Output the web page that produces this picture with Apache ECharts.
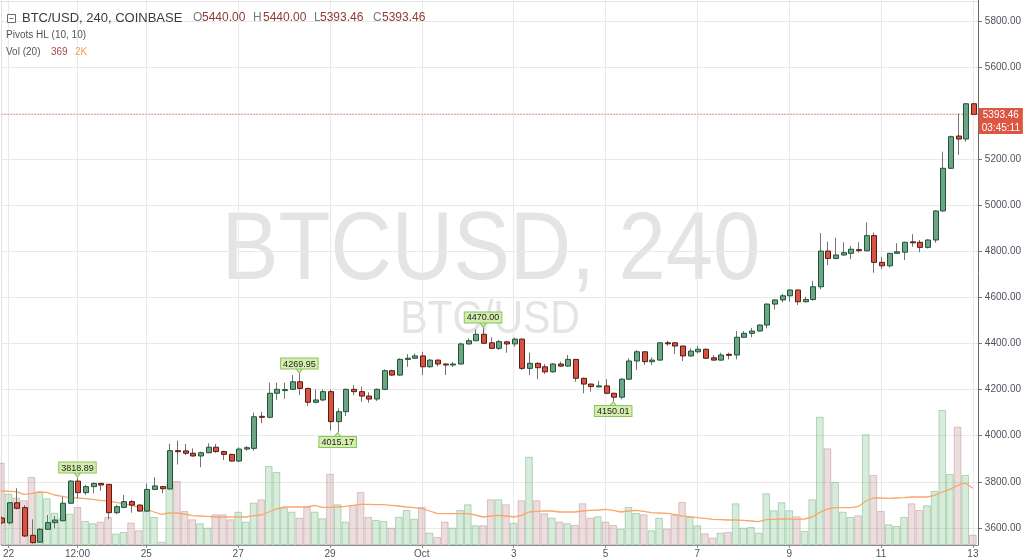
<!DOCTYPE html>
<html><head><meta charset="utf-8">
<script src="https://cdn.jsdelivr.net/npm/echarts@6/dist/echarts.min.js"></script>
<style>html,body{margin:0;padding:0;background:#fff}#c{width:1024px;height:560px}</style>
</head><body><div id="c"></div>
<script>
// 4h candles, index 0 = Sep 22 00:00 (first entry is Sep 21 20:00, index -1)
const firstIndex = -1;
const open = [3643,3622,3709,3688,3568,3538,3594,3623,3631,3707,
3803,3753,3779,3793,3789,3666,3689,3714,3699,3673,
3767,3779,3769,3935,3934,3924,3912,3926,3950,3931,
3919,3890,3942,3945,4084,4080,4184,4198,4201,4234,
4205,4145,4155,4191,4061,4104,4201,4191,4172,4159,
4201,4282,4263,4331,4336,4346,4299,4328,4311,4309,
4311,4398,4412,4440,4403,4379,4407,4398,4419,4292,
4314,4299,4277,4311,4302,4331,4249,4224,4213,4216,
4184,4167,4245,4324,4364,4321,4328,4403,4403,4389,
4346,4364,4375,4338,4328,4353,4350,4427,4444,4454,
4480,4571,4589,4607,4632,4581,4591,4646,4801,4769,
4784,4791,4807,4802,4868,4752,4737,4791,4796,4841,
4839,4817,4849,4975,5160,5300,5287,5440];
const close = [3622,3709,3685,3565,3536,3594,3623,3634,3707,3803,
3753,3779,3793,3786,3666,3692,3714,3699,3673,3767,
3782,3770,3935,3932,3924,3912,3926,3950,3931,3919,
3890,3942,3948,4082,4080,4184,4201,4200,4234,4205,
4145,4155,4191,4061,4104,4201,4191,4172,4159,4201,
4282,4263,4331,4336,4346,4299,4328,4311,4309,4311,
4398,4412,4440,4401,4379,4408,4398,4419,4292,4314,
4295,4277,4311,4302,4331,4249,4224,4213,4216,4184,
4167,4245,4324,4364,4321,4328,4403,4400,4389,4346,
4367,4375,4336,4328,4350,4350,4427,4444,4454,4480,
4571,4589,4607,4632,4581,4591,4646,4801,4769,4784,
4794,4809,4804,4868,4752,4737,4791,4798,4839,4838,
4817,4849,4975,5160,5297,5287,5440,5393.46];
const low = [3615,3615,3680,3560,3532,3535,3592,3598,3628,3705,
3728,3743,3750,3761,3637,3659,3685,3666,3670,3670,
3764,3750,3765,3875,3916,3909,3863,3924,3926,3895,
3888,3885,3935,3935,4054,4075,4155,4160,4198,4176,
4129,4140,4150,4022,4015.17,4085,4176,4147,4143,4150,
4198,4260,4260,4299,4333,4263,4295,4300,4263,4298,
4308,4395,4410,4398,4376,4372,4360,4386,4285,4263,
4245,4268,4273,4298,4299,4234,4184,4191,4210,4180,
4150.01,4158,4242,4285,4307,4307,4325,4390,4354,4324,
4343,4357,4333,4326,4325,4331,4331,4424,4427,4452,
4466,4548,4578,4581,4567,4578,4585,4635,4740,4765,
4780,4766,4794,4800,4707,4723,4730,4789,4762,4820,
4796,4812,4837,4972,5157,5218,5275,5393.46];
const high = [3650,3712,3772,3699,3637,3600,3656,3652,3735,3808,
3818.89,3786,3797,3795,3790,3699,3743,3721,3702,3793,
3820,3782,3965,3978,3964,3945,3931,3967,3964,3935,
3921,3950,3955,4100,4104,4230,4230,4230,4263,4269.95,
4208,4201,4201,4201,4119,4205,4220,4213,4188,4205,
4288,4286,4336,4354,4357,4364,4332,4330,4313,4320,
4403,4422,4461,4470,4427,4415,4412,4425,4422,4360,
4318,4311,4315,4321,4350,4333,4252,4226,4238,4245,
4186,4250,4336,4372,4366,4340,4405,4412,4405,4391,
4379,4390,4378,4350,4360,4360,4454,4454,4468,4483,
4574,4592,4615,4635,4634,4603,4671,4879,4842,4859,
4839,4823,4839,4925,4881,4776,4793,4835,4842,4874,
4849,4852,4978,5232,5302,5398,5442,5440];
const volume = [2963,1847,1703,1609,2448,1919,1681,1163,961,1127,
1368,864,781,839,1008,407,468,803,529,1224,
1008,119,2185,2304,1224,925,781,623,1105,1105,
925,1199,839,1523,1645,2844,2628,1343,1199,983,
1379,1199,961,2567,1465,839,1440,1908,1008,900,
864,623,1019,1260,947,1368,443,288,839,623,
1260,1465,709,709,1645,1645,1465,803,1609,3179,
1609,1141,983,839,781,720,1501,983,1033,839,
720,587,1368,1152,1105,529,983,587,1080,1548,
1008,709,421,263,443,468,1501,623,648,443,
1861,1249,1537,1249,1033,504,1645,4619,3481,2268,
1199,1008,1069,3985,2520,1224,745,684,1008,1501,
1260,1429,1944,4860,2556,4259,2520,369];
const volumeMA20 = [1944,1932,1920,1824,1848,1908,1896,1800,1752,1704,
1692,1668,1644,1608,1584,1536,1488,1428,1368,1296,
1188,1104,1152,1152,1116,1056,1044,1032,1008,1008,
1008,1008,1008,1056,1080,1188,1296,1368,1368,1368,
1368,1428,1356,1356,1368,1392,1428,1464,1464,1452,
1452,1428,1404,1368,1344,1308,1224,1140,1128,1128,
1128,1128,1080,1008,1044,1068,1044,1008,1068,1188,
1212,1224,1224,1188,1188,1188,1224,1248,1260,1284,
1248,1188,1224,1248,1212,1164,1152,1140,1104,1044,
1020,984,960,924,912,900,900,888,864,840,
912,924,936,936,924,936,1008,1176,1296,1344,
1344,1344,1380,1584,1692,1692,1680,1692,1704,1728,
1728,1728,1788,1908,2004,2148,2232,2040];

const tickIndex  = [0, 9, 18, 30, 42, 54, 66, 78, 90, 102, 114, 126];
const tickLabels = ['22', '12:00', '25', '27', '29', 'Oct', '3', '5', '7', '9', '11', '13'];
const priceTicks = [3600, 3800, 4000, 4200, 4400, 4600, 4800, 5000, 5200, 5400, 5600, 5800];

const pivotIndex = [9, 38, 43, 62, 79];
const pivotPrice = [3818.89, 4269.95, 4015.17, 4470.00, 4150.01];
const pivotSide  = ['high', 'high', 'low', 'high', 'low'];

const barCountdown = '03:45:11';

const FONT = 'Liberation Sans';
const UP = '#6ba583', UP_B = '#225437', DN = '#d75442', DN_B = '#5b1a13', WICK = '#737375';

const idx = open.map((_, k) => k + firstIndex);
const candleData = idx.map((x, k) => [x, open[k], close[k], low[k], high[k]]);
const volData = idx.map((x, k) => {
  const up = close[k] >= open[k];
  return { value: [x, volume[k]], itemStyle: {
    color: up ? 'rgba(100,180,115,0.25)' : 'rgba(160,90,90,0.2)',
    borderColor: up ? 'rgba(100,175,115,0.45)' : 'rgba(170,110,110,0.35)', borderWidth: 1 } };
});
const maData = idx.map((x, k) => [x, volumeMA20[k]]);
const last = open.length - 1;

function renderCandle(params, api) {
  const x = api.value(0), o = api.value(1), c = api.value(2), l = api.value(3), h = api.value(4);
  const pO = api.coord([x, o]), pC = api.coord([x, c]), pL = api.coord([x, l]), pH = api.coord([x, h]);
  const cx = Math.round(pO[0]);
  const up = c >= o;
  const top = Math.min(pO[1], pC[1]);
  const bh = Math.max(Math.abs(pO[1] - pC[1]), 1);
  return { type: 'group', children: [
    { type: 'line', shape: { x1: cx + 0.5, y1: pH[1], x2: cx + 0.5, y2: pL[1] }, style: { stroke: WICK, lineWidth: 1 } },
    { type: 'rect', shape: { x: cx - 1.5, y: top, width: 5, height: bh },
      style: { fill: up ? UP : DN, stroke: up ? UP_B : DN_B, lineWidth: 1 } }
  ]};
}

const pivotMarks = pivotIndex.map((pi, k) => {
  const hi = pivotSide[k] === 'high';
  return {
    coord: [pi, pivotPrice[k]],
    symbol: hi ? 'path://M0,0 L8,0 L4,5 Z' : 'path://M4,0 L8,5 L0,5 Z',
    symbolSize: [8, 5], symbolOffset: [0, hi ? -3 : 3],
    itemStyle: { color: '#d4eeb0', borderColor: '#8cc25c', borderWidth: 1 },
    label: { show: true, position: hi ? 'top' : 'bottom', distance: -1,
      formatter: pivotPrice[k].toFixed(2), backgroundColor: '#d4eeb0', borderColor: '#8cc25c', borderWidth: 1,
      padding: [1, 2, 0, 2], color: '#222', fontSize: 9, fontFamily: FONT }
  };
});

const lastPrice = close[last];
const option = {
  animation: false,
  backgroundColor: '#ffffff',
  textStyle: { fontFamily: FONT },
  grid: { left: 0, right: 46, top: 0, bottom: 15, containLabel: false },
  xAxis: {
    type: 'value', min: -0.913, max: 126.65, position: 'bottom',
    axisLine: { show: true, onZero: false, lineStyle: { color: '#8c8c8c' } },
    axisTick: { show: true, length: 3, customValues: tickIndex, lineStyle: { color: '#8c8c8c' } },
    axisLabel: { customValues: tickIndex, color: '#4c525e', fontSize: 10, margin: 4, fontFamily: FONT,
      formatter: v => tickLabels[tickIndex.indexOf(Math.round(v))] || '' },
    splitLine: { show: true, lineStyle: { color: '#e9e9e9' } }
  },
  yAxis: [{
    type: 'value', position: 'right', min: 3525.8, max: 5890.1,
    axisLine: { show: true, onZero: false, lineStyle: { color: '#6b6b6b' } },
    axisTick: { show: true, length: 4, customValues: priceTicks, lineStyle: { color: '#6b6b6b' } },
    axisLabel: { customValues: priceTicks, color: '#4c525e', fontSize: 10, margin: 7, fontFamily: FONT,
      formatter: v => v.toFixed(2) },
    splitLine: { show: true, lineStyle: { color: '#e9e9e9' } }
  }, {
    type: 'value', min: 0, max: 19620, show: false, axisLine: { onZero: false }, splitLine: { show: false }
  }],
  graphic: [
    { type: 'text', x: 491, y: 253, z: -1, scaleX: 0.885, silent: true,
      style: { text: 'BTCUSD, 240', fontSize: 96, fontFamily: FONT, fill: '#e4e4e4',
        align: 'center', verticalAlign: 'middle', textAlign: 'center', textVerticalAlign: 'middle' } },
    { type: 'text', x: 490, y: 320, z: -1, scaleX: 0.87, silent: true,
      style: { text: 'BTC/USD', fontSize: 47, fontFamily: FONT, fill: '#e4e4e4',
        align: 'center', verticalAlign: 'middle', textAlign: 'center', textVerticalAlign: 'middle' } },
    { type: 'line', z: 0, silent: true, shape: { x1: 1.5, y1: 0, x2: 1.5, y2: 545 }, style: { stroke: '#e2e2e2', lineWidth: 1 } },
    { type: 'line', z: 0, silent: true, shape: { x1: 0, y1: 1.5, x2: 978, y2: 1.5 }, style: { stroke: '#e2e2e2', lineWidth: 1 } },
    { type: 'rect', z: 100, silent: true, shape: { x: 7.5, y: 14.5, width: 8, height: 8 }, style: { fill: '#fff', stroke: '#6b6b6b', lineWidth: 1 } },
    { type: 'line', z: 100, silent: true, shape: { x1: 9.5, y1: 18.5, x2: 13.5, y2: 18.5 }, style: { stroke: '#6b6b6b', lineWidth: 1 } },
    { type: 'text', x: 22, y: 18, z: 100, style: { text: 'BTC/USD, 240, COINBASE', fontSize: 13, fontFamily: FONT, fill: '#3b3b3b', verticalAlign: 'middle', textVerticalAlign: 'middle' } },
    { type: 'text', x: 193, y: 18, z: 100, style: { text: 'O', fontSize: 12, fontFamily: FONT, fill: '#7a7a7a', verticalAlign: 'middle', textVerticalAlign: 'middle' } },
    { type: 'text', x: 202, y: 18, z: 100, style: { text: open[last].toFixed(2), fontSize: 12, fontFamily: FONT, fill: '#8e3b33', verticalAlign: 'middle', textVerticalAlign: 'middle' } },
    { type: 'text', x: 253, y: 18, z: 100, style: { text: 'H', fontSize: 12, fontFamily: FONT, fill: '#7a7a7a', verticalAlign: 'middle', textVerticalAlign: 'middle' } },
    { type: 'text', x: 263, y: 18, z: 100, style: { text: high[last].toFixed(2), fontSize: 12, fontFamily: FONT, fill: '#8e3b33', verticalAlign: 'middle', textVerticalAlign: 'middle' } },
    { type: 'text', x: 314, y: 18, z: 100, style: { text: 'L', fontSize: 12, fontFamily: FONT, fill: '#7a7a7a', verticalAlign: 'middle', textVerticalAlign: 'middle' } },
    { type: 'text', x: 320, y: 18, z: 100, style: { text: low[last].toFixed(2), fontSize: 12, fontFamily: FONT, fill: '#8e3b33', verticalAlign: 'middle', textVerticalAlign: 'middle' } },
    { type: 'text', x: 373, y: 18, z: 100, style: { text: 'C', fontSize: 12, fontFamily: FONT, fill: '#7a7a7a', verticalAlign: 'middle', textVerticalAlign: 'middle' } },
    { type: 'text', x: 382, y: 18, z: 100, style: { text: close[last].toFixed(2), fontSize: 12, fontFamily: FONT, fill: '#8e3b33', verticalAlign: 'middle', textVerticalAlign: 'middle' } },
    { type: 'text', x: 6, y: 35, z: 100, style: { text: 'Pivots HL (10, 10)', fontSize: 10, fontFamily: FONT, fill: '#555', verticalAlign: 'middle', textVerticalAlign: 'middle' } },
    { type: 'text', x: 6, y: 52, z: 100, style: { text: 'Vol (20)', fontSize: 10, fontFamily: FONT, fill: '#555', verticalAlign: 'middle', textVerticalAlign: 'middle' } },
    { type: 'text', x: 51, y: 52, z: 100, style: { text: String(volume[last]), fontSize: 10, fontFamily: FONT, fill: '#a34a45', verticalAlign: 'middle', textVerticalAlign: 'middle' } },
    { type: 'text', x: 75, y: 52, z: 100, style: { text: Math.round(volumeMA20[last] / 1000) + 'K', fontSize: 10, fontFamily: FONT, fill: '#f5a05a', verticalAlign: 'middle', textVerticalAlign: 'middle' } }
  ],
  series: [
    { name: 'Volume', type: 'bar', xAxisIndex: 0, yAxisIndex: 1, barWidth: 7.6, z: 1, data: volData, clip: true },
    { name: 'Vol MA 20', type: 'line', xAxisIndex: 0, yAxisIndex: 1, z: 2, data: maData, symbol: 'none',
      lineStyle: { color: '#f9a66c', width: 1.3 }, clip: true },
    { name: 'BTC/USD', type: 'custom', xAxisIndex: 0, yAxisIndex: 0, z: 3, clip: true,
      dimensions: ['x', 'open', 'close', 'low', 'high'], encode: { x: 0, y: [1, 2, 3, 4] },
      renderItem: renderCandle, data: candleData,
      markLine: { silent: true, symbol: ['none', 'none'], animation: false,
        lineStyle: { color: '#e0533f', type: [1, 2], width: 1, opacity: 1 },
        label: { show: true, position: 'end', distance: 1,
          formatter: () => '{e| }\n{a|' + lastPrice.toFixed(2) + '}\n{a|' + barCountdown + '}',
          rich: {
            e: { fontSize: 10, lineHeight: 13, height: 13 },
            a: { backgroundColor: '#dc5642', color: '#fff', fontSize: 10, fontFamily: FONT, lineHeight: 13, height: 12, width: 38, align: 'center', padding: [1, 3, 0, 3] }
          } },
        data: [{ yAxis: lastPrice }] },
      markPoint: { silent: true, animation: false, data: pivotMarks }
    }
  ]
};
const chart = echarts.init(document.getElementById('c'), null, { renderer: 'canvas' });
chart.setOption(option);
</script></body></html>
